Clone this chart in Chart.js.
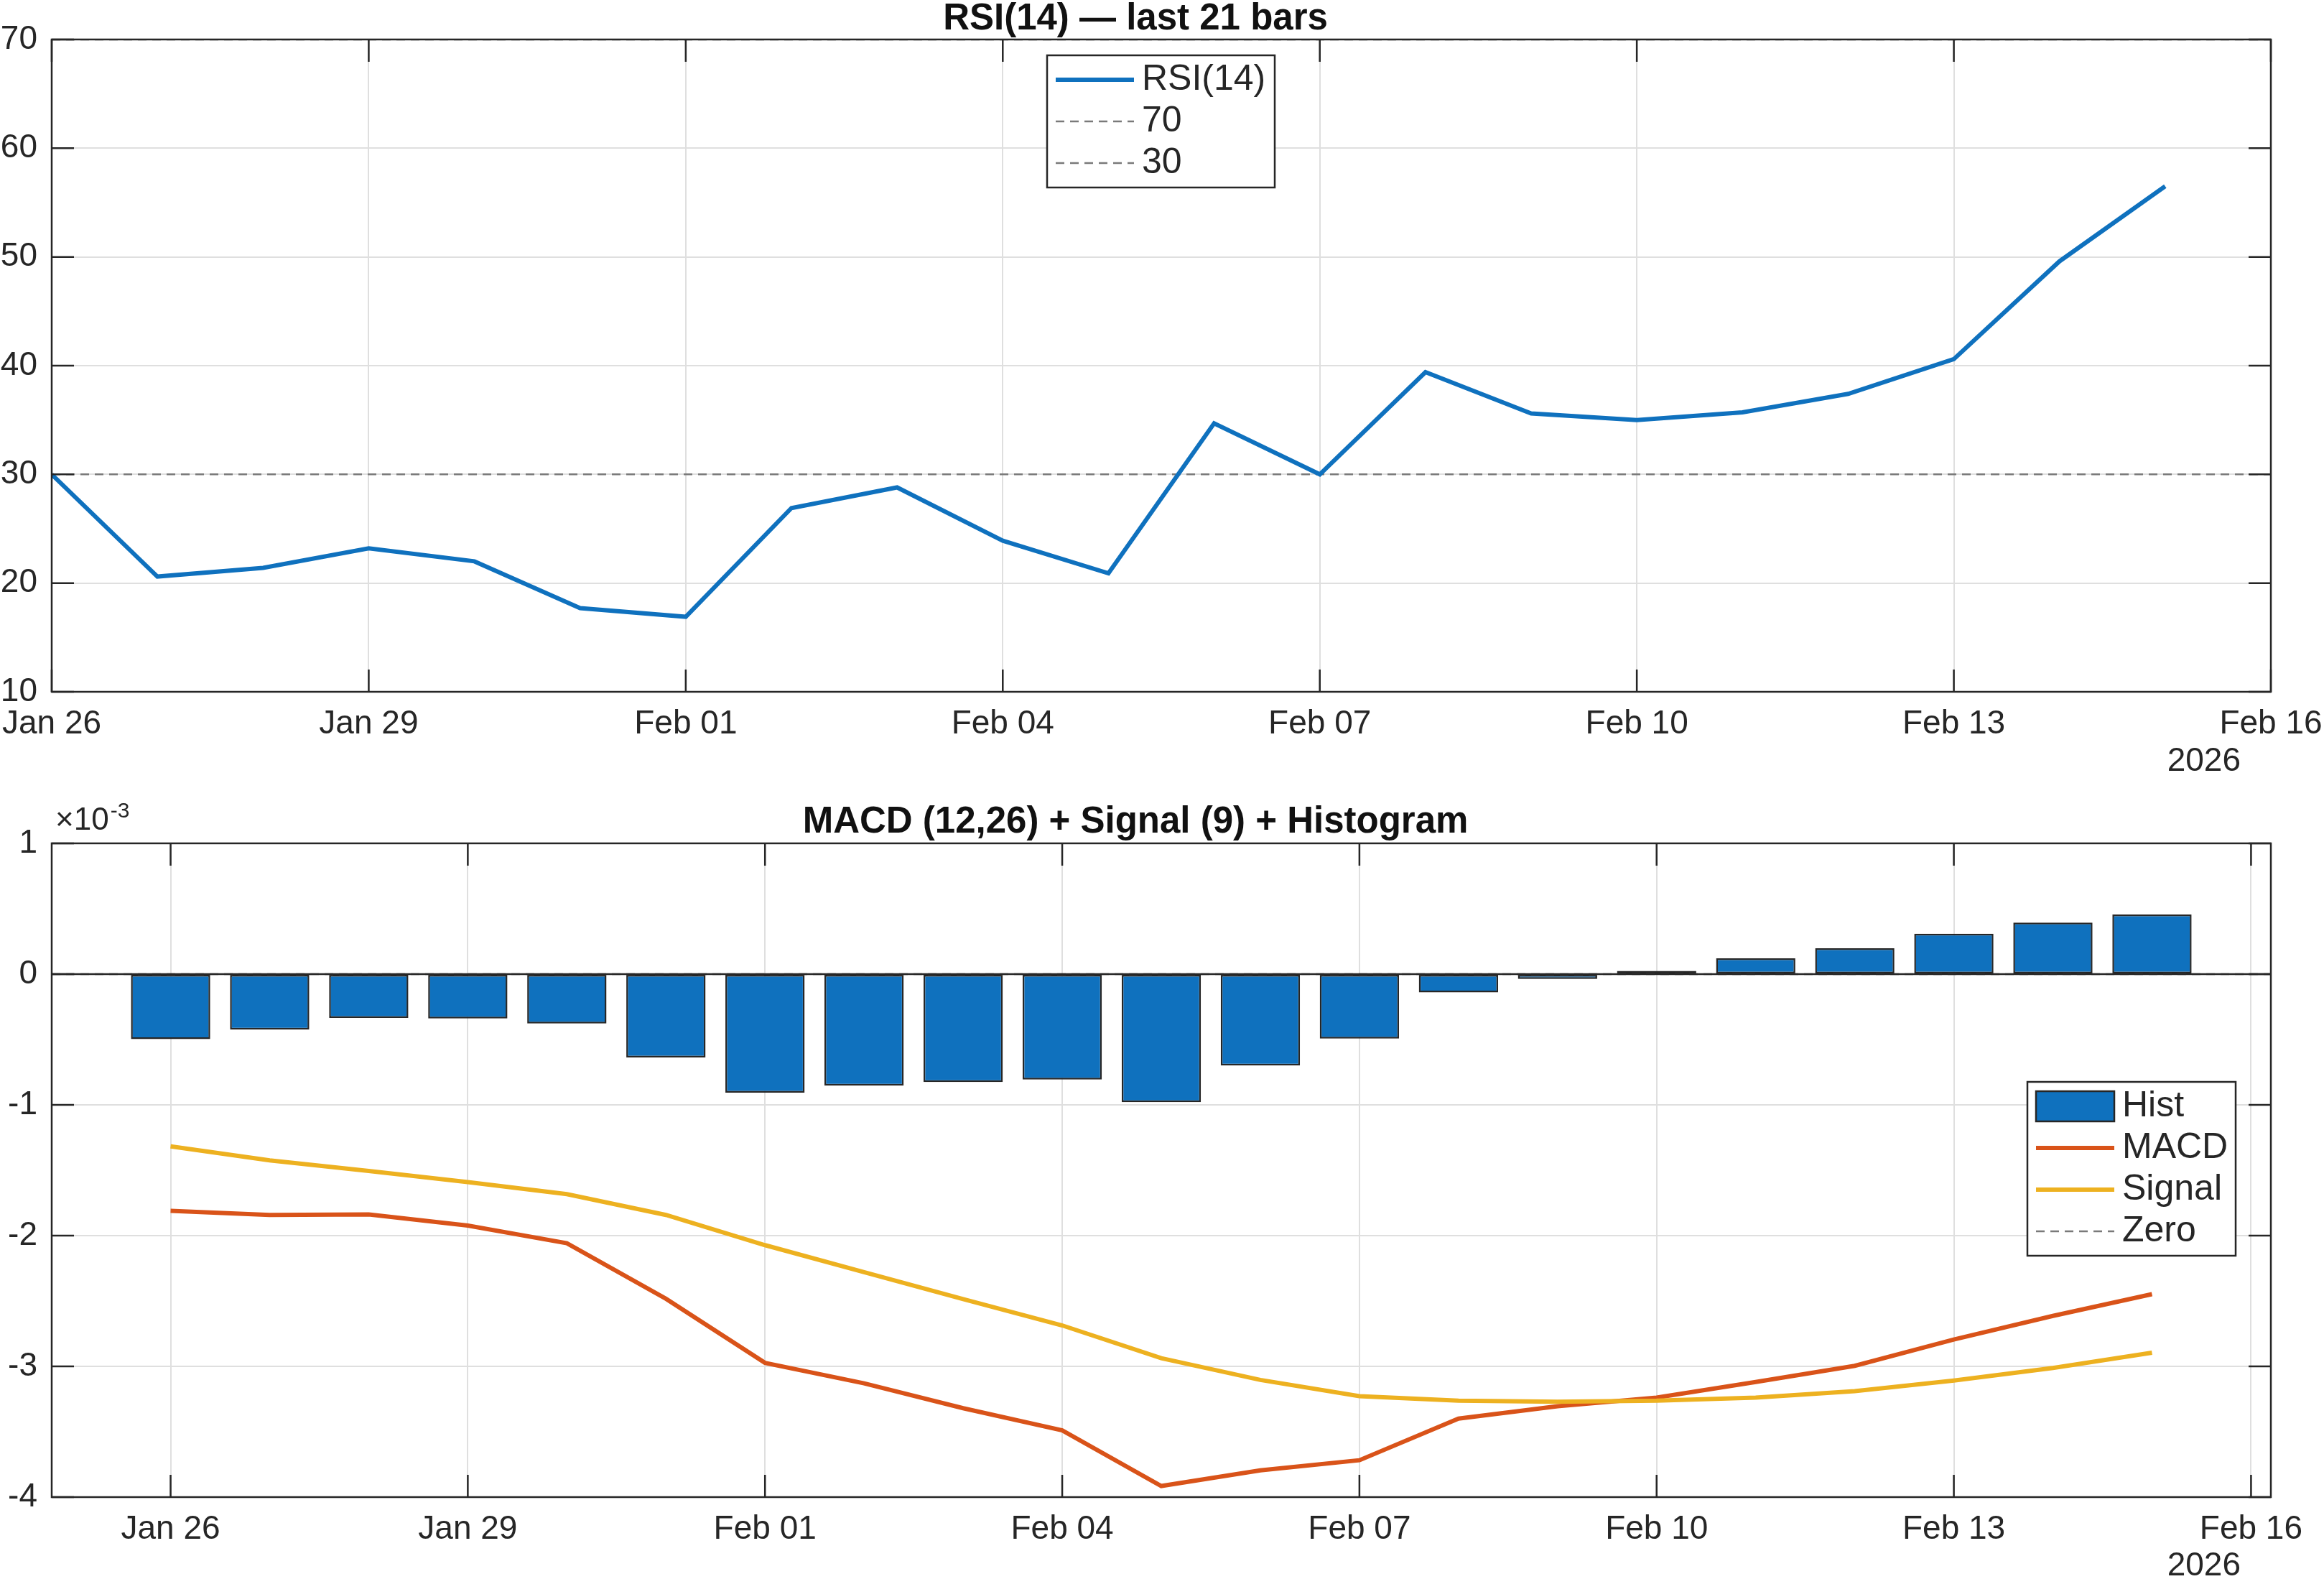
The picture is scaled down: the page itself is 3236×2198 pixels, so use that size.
<!DOCTYPE html>
<html lang="en">
<head>
<meta charset="UTF-8">
<title>RSI(14) and MACD</title>
<script src="https://cdn.jsdelivr.net/npm/chart.js"></script>
<style>
  html, body { margin: 0; padding: 0; background: #fff; }
  body { position: relative; width: 3236px; height: 2198px; overflow: hidden; }
  canvas { position: absolute; left: 0; }
  #rsiChart { top: 0; }
  #macdChart { top: 1095px; }
</style>
</head>
<body>
<canvas id="rsiChart" width="3236" height="1095"></canvas>
<canvas id="macdChart" width="3236" height="1103"></canvas>
<script>
// days counted from Jan 26 2026
const days = [0, 1, 2, 3, 4, 5, 6, 7, 8, 9, 10, 11, 12, 13, 14, 15, 16, 17, 18, 19, 20];
const tickDays = [0, 3, 6, 9, 12, 15, 18, 21];
const tickLabels = ['Jan 26', 'Jan 29', 'Feb 01', 'Feb 04', 'Feb 07', 'Feb 10', 'Feb 13', 'Feb 16'];
const yearLabel = '2026';

const rsi = [30.0, 20.6, 21.4, 23.2, 22.0, 17.7, 16.9, 26.9, 28.8, 23.9, 20.9,
             34.7, 30.0, 39.4, 35.6, 35.0, 35.7, 37.4, 40.6, 49.6, 56.5];
const rsiLevels = [70, 30];

// MACD panel values, in units of 1e-3
const hist = [-0.498, -0.425, -0.336, -0.340, -0.378, -0.637, -0.907, -0.853, -0.826, -0.807, -0.980,
              -0.699, -0.494, -0.141, -0.037, 0.025, 0.120, 0.197, 0.309, 0.394, 0.456];
const macd = [-1.811, -1.842, -1.838, -1.923, -2.058, -2.483, -2.973, -3.130, -3.320, -3.490, -3.915,
              -3.795, -3.718, -3.400, -3.305, -3.239, -3.120, -2.996, -2.795, -2.614, -2.448];
const signal = [-1.317, -1.425, -1.506, -1.591, -1.683, -1.842, -2.073, -2.280, -2.486, -2.687, -2.938,
                -3.104, -3.228, -3.263, -3.270, -3.263, -3.239, -3.189, -3.108, -3.012, -2.896];

const AXIS = '#262626';
const GRID = '#dfdfdf';
const BLUE = '#0F71BE';
const ORANGE = '#D95319';
const YELLOW = '#EDB120';
const DASH = '#7a7a7a';
const FONT = "'Liberation Sans', Arial, Helvetica, sans-serif";

Chart.defaults.font.family = FONT;
Chart.defaults.color = AXIS;

const pts = arr => days.map((d, i) => ({ x: d, y: arr[i] }));

// box, inward ticks, legend and the extra axis texts, MATLAB style
const matlabAxes = {
  id: 'matlabAxes',
  afterDatasetsDraw(chart, args, opts) {
    const { ctx, chartArea: a, scales: { x, y } } = chart;
    ctx.save();
    ctx.strokeStyle = AXIS;
    ctx.lineWidth = 2.5;
    if (opts.baseline) {
      const py = y.getPixelForValue(0);
      ctx.beginPath(); ctx.moveTo(a.left, py); ctx.lineTo(a.right, py); ctx.stroke();
    }
    ctx.strokeRect(a.left, a.top, a.right - a.left, a.bottom - a.top);
    const L = 31;
    ctx.beginPath();
    x.ticks.forEach(t => {
      const px = x.getPixelForValue(t.value);
      ctx.moveTo(px, a.bottom); ctx.lineTo(px, a.bottom - L);
      ctx.moveTo(px, a.top); ctx.lineTo(px, a.top + L);
    });
    y.ticks.forEach(t => {
      const py = y.getPixelForValue(t.value);
      ctx.moveTo(a.left, py); ctx.lineTo(a.left + L, py);
      ctx.moveTo(a.right, py); ctx.lineTo(a.right - L, py);
    });
    ctx.stroke();

    // legend
    const lg = opts.legend;
    ctx.fillStyle = '#fff';
    ctx.fillRect(lg.x, lg.y, lg.w, lg.h);
    ctx.strokeRect(lg.x, lg.y, lg.w, lg.h);
    ctx.font = '50px ' + FONT;
    ctx.textBaseline = 'middle';
    ctx.textAlign = 'left';
    chart.data.datasets.forEach((ds, i) => {
      const cy = lg.y + 34 + i * 58;
      const x0 = lg.x + 12, x1 = lg.x + 121;
      if (ds.type === 'bar') {
        ctx.fillStyle = ds.backgroundColor;
        ctx.fillRect(x0, cy - 21, x1 - x0, 42);
        ctx.lineWidth = 2.5;
        ctx.strokeStyle = ds.borderColor;
        ctx.strokeRect(x0, cy - 21, x1 - x0, 42);
      } else {
        ctx.strokeStyle = ds.borderColor;
        ctx.lineWidth = ds.borderWidth;
        ctx.setLineDash(ds.borderDash || []);
        ctx.beginPath(); ctx.moveTo(x0, cy); ctx.lineTo(x1, cy); ctx.stroke();
        ctx.setLineDash([]);
      }
      ctx.fillStyle = AXIS;
      ctx.fillText(ds.label, lg.x + 132, cy);
    });

    // year under the last date tick
    ctx.font = '46px ' + FONT;
    ctx.textAlign = 'right';
    ctx.fillStyle = AXIS;
    ctx.fillText(yearLabel, opts.yearX, opts.yearY);

    // exponent label
    if (opts.exponent) {
      ctx.textAlign = 'left';
      ctx.textBaseline = 'alphabetic';
      ctx.font = '44px ' + FONT;
      ctx.fillText('\u00d710', 77, opts.exponentY);
      const w = ctx.measureText('\u00d710').width;
      ctx.font = '30px ' + FONT;
      ctx.fillText('-3', 77 + w + 2, opts.exponentY - 17);
    }
    ctx.restore();
  }
};

function xScale(min, max, height) {
  return {
    type: 'linear',
    min: min,
    max: max,
    offset: false,
    afterBuildTicks: s => { s.ticks = tickDays.map(v => ({ value: v })); },
    afterFit: s => { s.height = height; s.paddingLeft = 0; s.paddingRight = 0; },
    grid: { color: GRID, lineWidth: 2, drawTicks: false, offset: false },
    border: { display: false },
    ticks: {
      autoSkip: false,
      maxRotation: 0,
      padding: 18,
      font: { size: 46 },
      color: AXIS,
      callback: v => tickLabels[tickDays.indexOf(v)] || ''
    }
  };
}

function yScale(min, max, step) {
  return {
    type: 'linear',
    min: min,
    max: max,
    afterFit: s => { s.width = 72; s.paddingTop = 0; s.paddingBottom = 0; },
    grid: { color: GRID, lineWidth: 2, drawTicks: false },
    border: { display: false },
    ticks: { stepSize: step, padding: 20, font: { size: 46 }, color: AXIS, callback: v => String(v) }
  };
}

const titleFont = { size: 51, weight: 'bold', lineHeight: 0.95 };

new Chart(document.getElementById('rsiChart'), {
  type: 'line',
  data: {
    datasets: [
      { label: 'RSI(14)', data: pts(rsi), borderColor: BLUE, borderWidth: 6, pointRadius: 0, tension: 0 },
      { label: String(rsiLevels[0]), data: [{ x: 0, y: rsiLevels[0] }, { x: 21, y: rsiLevels[0] }],
        borderColor: DASH, borderWidth: 2.5, borderDash: [12, 8], pointRadius: 0 },
      { label: String(rsiLevels[1]), data: [{ x: 0, y: rsiLevels[1] }, { x: 21, y: rsiLevels[1] }],
        borderColor: DASH, borderWidth: 2.5, borderDash: [12, 8], pointRadius: 0 }
    ]
  },
  options: {
    responsive: false,
    animation: false,
    devicePixelRatio: 1,
    layout: { padding: { left: 0, right: 74, top: 3, bottom: 0 } },
    scales: { x: xScale(0, 21, 132), y: yScale(10, 70, 10) },
    plugins: {
      legend: { display: false },
      tooltip: { enabled: false },
      title: { display: true, text: 'RSI(14) \u2014 last 21 bars', color: '#111', font: titleFont,
               padding: { top: 0, bottom: 3.5 } },
      matlabAxes: {
        legend: { x: 1458, y: 77, w: 317, h: 184 },
        yearX: 3120, yearY: 1060,
        exponent: false, baseline: false
      }
    }
  },
  plugins: [matlabAxes]
});

new Chart(document.getElementById('macdChart'), {
  type: 'bar',
  data: {
    datasets: [
      { type: 'bar', label: 'Hist', data: pts(hist), backgroundColor: BLUE, borderColor: AXIS,
        borderWidth: 2.5, borderSkipped: false, barPercentage: 0.8, categoryPercentage: 1, order: 4 },
      { type: 'line', label: 'MACD', data: pts(macd), borderColor: ORANGE, borderWidth: 6,
        pointRadius: 0, order: 3 },
      { type: 'line', label: 'Signal', data: pts(signal), borderColor: YELLOW, borderWidth: 6,
        pointRadius: 0, order: 2 },
      { type: 'line', label: 'Zero', data: [{ x: -1.2, y: 0 }, { x: 21.2, y: 0 }], borderColor: DASH,
        borderWidth: 2.5, borderDash: [12, 8], pointRadius: 0, order: 1 }
    ]
  },
  options: {
    responsive: false,
    animation: false,
    devicePixelRatio: 1,
    layout: { padding: { left: 0, right: 74, top: 26, bottom: 0 } },
    scales: { x: xScale(-1.2, 21.2, 114), y: yScale(-4, 1, 1) },
    plugins: {
      legend: { display: false },
      tooltip: { enabled: false },
      title: { display: true, text: 'MACD (12,26) + Signal (9) + Histogram', color: '#111', font: titleFont,
               padding: { top: 0, bottom: 4.5 } },
      matlabAxes: {
        legend: { x: 2823, y: 411, w: 290, h: 242 },
        yearX: 3120, yearY: 1085,
        exponent: true, exponentY: 60, baseline: true
      }
    }
  },
  plugins: [matlabAxes]
});
</script>
</body>
</html>
